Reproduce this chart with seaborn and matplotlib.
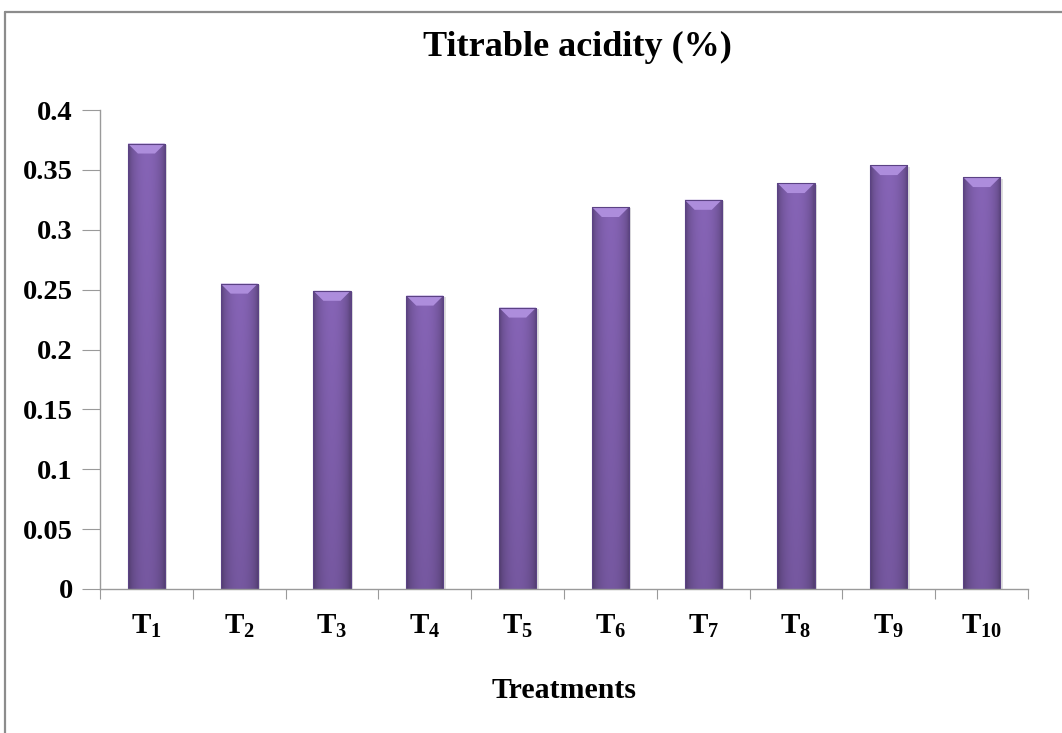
import numpy as np
import pandas as pd
import matplotlib
matplotlib.use("Agg")
import matplotlib.pyplot as plt
import seaborn as sns
from matplotlib.patches import Polygon, Rectangle
from matplotlib.lines import Line2D

# ---- data ----
treatments = ["T1", "T2", "T3", "T4", "T5", "T6", "T7", "T8", "T9", "T10"]
acidity = [0.372, 0.255, 0.249, 0.245, 0.235, 0.319, 0.325, 0.339, 0.354, 0.344]
tick_labels = [r"$\mathbf{T_{%s}}$" % t[1:] for t in treatments]
y_ticks = [0, 0.05, 0.1, 0.15, 0.2, 0.25, 0.3, 0.35, 0.4]
y_tick_labels = ["0", "0.05", "0.1", "0.15", "0.2", "0.25", "0.3", "0.35", "0.4"]

sns.set_theme(style="white")
plt.rcParams["font.family"] = ["Liberation Serif", "DejaVu Serif"]
plt.rcParams["font.weight"] = "bold"
plt.rcParams["text.color"] = "black"
plt.rcParams["xtick.labelcolor"] = "black"
plt.rcParams["ytick.labelcolor"] = "black"
plt.rcParams["mathtext.fontset"] = "custom"
plt.rcParams["mathtext.rm"] = "Liberation Serif:bold"
plt.rcParams["mathtext.bf"] = "Liberation Serif:bold"
plt.rcParams["mathtext.it"] = "Liberation Serif:bold"

W, H = 1062, 733
fig = plt.figure(figsize=(W / 100, H / 100), dpi=100)
fig.patch.set_facecolor("white")
ax_l, ax_r, ax_t, ax_b = 100, 1028, 110, 589
ax = fig.add_axes([ax_l / W, 1 - ax_b / H, (ax_r - ax_l) / W, (ax_b - ax_t) / H])

df = pd.DataFrame({"Treatment": treatments, "Acidity": acidity})
sns.barplot(data=df, x="Treatment", y="Acidity", color="#7d5dab", width=0.4,
            ax=ax, saturation=1, linewidth=0)

ax.set_ylim(0, 0.4)
ax.set_xlim(-0.5, len(treatments) - 0.5)

# gradient + bevel on each bar
nx, ny = 60, 60
xs = np.linspace(0, 1, nx)
ys = np.linspace(0, 1, ny)
hprof = 0.72 + 0.28 * np.sin(np.pi * np.clip(xs * 1.08 - 0.04, 0, 1)) ** 0.6
vprof = 0.88 + 0.12 * ys  # ys=0 bottom, 1 top
base = np.array([0x86, 0x64, 0xb6]) / 255.0
img = np.clip(base[None, None, :] * hprof[None, :, None] * vprof[:, None, None], 0, 1)
img = img[::-1]  # top row first

px_x = (ax_r - ax_l) / (len(treatments))  # px per data unit in x
px_y = (ax_b - ax_t) / 0.4
bev_px = 10
for p in list(ax.patches):
    x0, y0 = p.get_x(), p.get_y()
    w, h = p.get_width(), p.get_height()
    # soft shadow
    sh = Rectangle((x0 + 2.5 / px_x, y0), w, h - 1.5 / px_y, facecolor="#b8b8b8",
                   edgecolor="none", alpha=0.45, zorder=1.5)
    ax.add_patch(sh)
    p.set_zorder(2)
    im = ax.imshow(img, extent=(x0, x0 + w, y0, y0 + h), aspect="auto",
                   zorder=2.1, interpolation="bilinear")
    im.set_clip_path(p)
    dx = bev_px / px_x
    dy = bev_px / px_y
    top = y0 + h
    bevel = Polygon([(x0, top), (x0 + w, top), (x0 + w - dx, top - dy), (x0 + dx, top - dy)],
                    closed=True, facecolor="#ad8ddc", edgecolor="none", zorder=2.2)
    ax.add_patch(bevel)
    edge = Rectangle((x0, y0), w, h, facecolor="none", edgecolor="#5b4284",
                     linewidth=0.8, zorder=2.3)
    ax.add_patch(edge)

# axes styling
for s in ["top", "right"]:
    ax.spines[s].set_visible(False)
for s in ["left", "bottom"]:
    ax.spines[s].set_color("#9a9a9a")
    ax.spines[s].set_linewidth(1.0)

ax.set_yticks(y_ticks)
ax.set_yticklabels(y_tick_labels, fontsize=20.5, fontweight="bold", color="black")
ax.tick_params(axis="y", direction="out", length=13, width=0.8, color="#9a9a9a",
               pad=6.5, left=True, labelcolor="black")

ax.set_xticks(np.arange(-0.5, len(treatments), 1.0))
ax.set_xticklabels([""] * (len(treatments) + 1))
ax.tick_params(axis="x", which="major", direction="out", length=7, width=0.8,
               color="#9a9a9a", bottom=True)
ax.set_xticks(np.arange(len(treatments)), minor=True)
ax.set_xticklabels(tick_labels, minor=True, fontsize=21, color="black")
ax.tick_params(axis="x", which="minor", length=0, pad=17, labelcolor="black")

ax.set_xlabel("")
ax.set_ylabel("")
ax.grid(False)

fig.text((ax_l + ax_r) / 2 / W, 1 - 690 / H, "Treatments", ha="center", va="center",
         fontsize=21.5, fontweight="bold", color="black")
fig.text(577 / W, 1 - 47 / H, "Titrable acidity (%)", ha="center", va="center",
         fontsize=26, fontweight="bold", color="black")

# outer chart border (partially cropped)
fig.add_artist(Line2D([5 / W, 5 / W], [0, 1 - 12 / H], transform=fig.transFigure,
                      color="#8c8c8c", linewidth=1.6))
fig.add_artist(Line2D([5 / W, 1], [1 - 12 / H, 1 - 12 / H], transform=fig.transFigure,
                      color="#8c8c8c", linewidth=1.6))

fig.savefig("out.png", dpi=100)
